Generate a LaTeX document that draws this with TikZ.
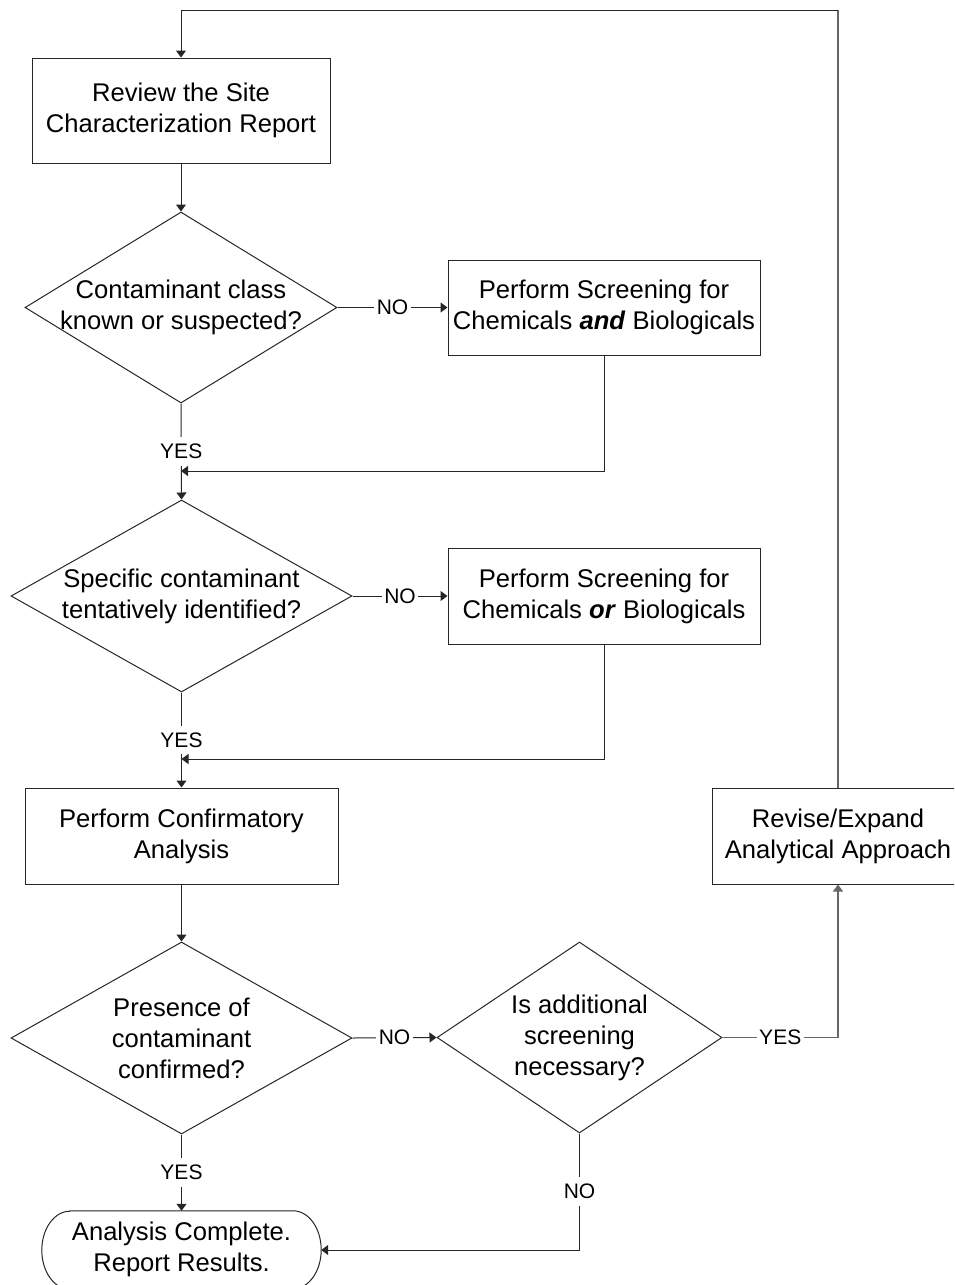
\documentclass[tikz,border=0pt]{standalone}
\usepackage{fontspec}
\setmainfont{Liberation Sans}
\usetikzlibrary{shapes.geometric,arrows.meta}
\begin{document}
\begin{tikzpicture}[x=1pt,y=-1pt,
  every node/.style={font=\fontsize{25.6}{31}\selectfont},
  box/.style={draw=black!85,line width=1pt,rectangle,inner sep=0pt,align=center},
  dia/.style={draw=black!85,line width=1pt,diamond,inner sep=0pt,aspect=1.6},
  txt/.style={align=center,inner sep=0pt},
  lbl/.style={fill=white,inner xsep=2.5pt,inner ysep=7pt,font=\fontsize{21}{25}\selectfont},
  line/.style={draw=black!85,line width=1pt},
  arr/.style={line,-{Triangle[length=7pt,width=10pt]}},
  grayline/.style={draw=black!60,line width=1.2pt}]
\useasboundingbox (0,0) rectangle (954,1285);
\clip (0,0) rectangle (954,1285);
% nodes
\node[box,minimum width=298pt,minimum height=105pt] (box1) at (181,110.5) {Review the Site\\Characterization Report};
\node[dia,minimum width=312pt,minimum height=191pt] (d1) at (181,307.5) {};
\node[txt] (d1t) at (181,307.5) {Contaminant class\\known or suspected?};
\node[box,minimum width=312pt,minimum height=95pt] (sc1) at (604,307.5) {Perform Screening for\\Chemicals \textbf{\textit{and}} Biologicals};
\node[dia,minimum width=341pt,minimum height=192pt] (d2) at (181.5,596) {};
\node[txt] (d2t) at (181.5,596) {Specific contaminant\\tentatively identified?};
\node[box,minimum width=312pt,minimum height=96pt] (sc2) at (604,596) {Perform Screening for\\Chemicals \textbf{\textit{or}} Biologicals};
\node[box,minimum width=313pt,minimum height=96pt] (conf) at (181.5,836) {Perform Confirmatory\\Analysis};
\node[dia,minimum width=341pt,minimum height=192pt] (d3) at (181.5,1038) {};
\node[txt] (d3t) at (181.5,1038) {Presence of\\contaminant\\confirmed?};
\node[dia,minimum width=285pt,minimum height=191pt] (d4) at (579.5,1037.5) {};
\node[txt] (d4t) at (579.5,1037.5) {Is additional\\screening\\necessary?};
\node[box,minimum width=252pt,minimum height=96pt] (rev) at (838,836) {};
\node[txt] (revt) at (838,836) {Revise/Expand\\Analytical Approach};
\node[inner sep=0pt,minimum width=279pt,minimum height=78pt] (term) at (181.5,1250) {};
\node[txt] (termt) at (181.5,1249) {Analysis Complete.\\Report Results.};
\draw[line] ([xshift=28pt]term.north west) -- ([xshift=-28pt]term.north east)
  arc[start angle=90,end angle=-90,x radius=28pt,y radius=39pt]
  -- ([xshift=28pt]term.south west)
  arc[start angle=-90,end angle=-270,x radius=28pt,y radius=39pt] -- cycle;
% coordinates
\coordinate (topc) at (838,10);
\coordinate (j1) at (181,471);
\coordinate (j2) at (181.5,759);
% connectors
\draw[grayline] (rev.north) -- (topc);
\draw[arr] (topc) -| (box1.north);
\draw[arr] (box1.south) -- (d1.north);
\draw[arr] (d1.east) -- node[lbl] (no1) {NO} (sc1.west);
\draw[arr] (d1.south) -- node[lbl] (yes1) {YES} (d2.north);
\draw[arr] (sc1.south) |- (j1);
\draw[arr] (d2.east) -- node[lbl] (no2) {NO} (sc2.west);
\draw[arr] (d2.south) -- node[lbl] (yes2) {YES} (conf.north);
\draw[arr] (sc2.south) |- (j2);
\draw[arr] (conf.south) -- (d3.north);
\draw[arr] (d3.east) -- node[lbl] (no3) {NO} (d4.west);
\draw[arr] (d3.south) -- node[lbl] (yes3) {YES} (term.north);
\draw[arr,draw=black!60,line width=1.2pt] (d4.east) -| node[lbl,pos=0.25] (yes4) {YES} (rev.south);
\draw[arr] (d4.south) |- node[lbl,pos=0.25] (no4) {NO} (term.east);
\end{tikzpicture}
\end{document}
